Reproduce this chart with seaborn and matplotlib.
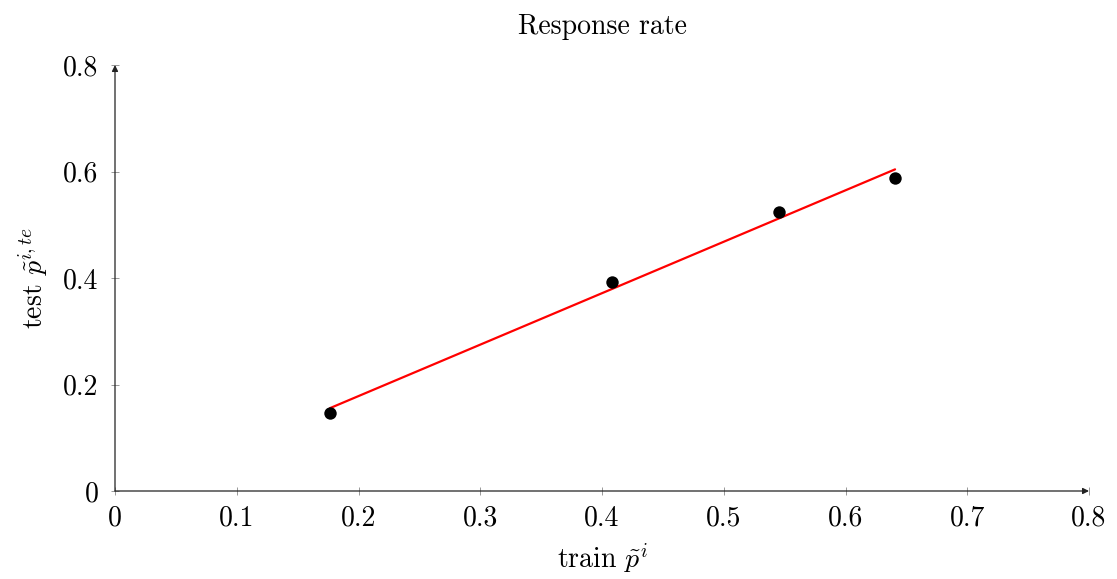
import matplotlib
matplotlib.use("Agg")
import matplotlib.pyplot as plt
import seaborn as sns
import pandas as pd

# Data
train_p = [0.1766, 0.408, 0.5454, 0.6407]
test_p = [0.1465, 0.3925, 0.524, 0.5878]
x_ticks = [0, 0.1, 0.2, 0.3, 0.4, 0.5, 0.6, 0.7, 0.8]
y_ticks = [0, 0.2, 0.4, 0.6, 0.8]
x_tick_labels = ["0", "0.1", "0.2", "0.3", "0.4", "0.5", "0.6", "0.7", "0.8"]
y_tick_labels = ["0", "0.2", "0.4", "0.6", "0.8"]

df = pd.DataFrame({"train": train_p, "test": test_p})

sns.set_style("white")
plt.rcParams["font.family"] = ["cmr10", "DejaVu Serif"]
plt.rcParams["mathtext.fontset"] = "cm"
plt.rcParams["axes.formatter.use_mathtext"] = True
plt.rcParams["text.color"] = "black"
plt.rcParams["axes.labelcolor"] = "black"
plt.rcParams["xtick.color"] = "black"
plt.rcParams["ytick.color"] = "black"

fig = plt.figure(figsize=(11.17, 5.79), dpi=100)
ax = fig.add_axes([115 / 1117, 88 / 579, (1089 - 115) / 1117, (491 - 65) / 579])

sns.regplot(data=df, x="train", y="test", ax=ax, ci=None,
            scatter_kws=dict(s=80, color="black", alpha=1, zorder=3, linewidths=0),
            line_kws=dict(color="red", lw=1.6, zorder=2))

ax.set_xlim(0, 0.8)
ax.set_ylim(0, 0.8)
ax.set_xticks(x_ticks)
ax.set_xticklabels(x_tick_labels)
ax.set_yticks(y_ticks)
ax.set_yticklabels(y_tick_labels)

for s in ax.spines.values():
    s.set_visible(False)

ax.annotate("", xy=(1.0, 0), xytext=(0, 0), xycoords="axes fraction",
            arrowprops=dict(arrowstyle="-|>", color="#222222", lw=0.9,
                            shrinkA=0, shrinkB=0, mutation_scale=9))
ax.annotate("", xy=(0, 1.0), xytext=(0, 0), xycoords="axes fraction",
            arrowprops=dict(arrowstyle="-|>", color="#222222", lw=0.9,
                            shrinkA=0, shrinkB=0, mutation_scale=9))

ax.tick_params(axis="both", direction="inout", length=6, width=0.6,
               color="#888888", labelcolor="black", labelsize=20,
               bottom=True, left=True)
ax.tick_params(axis="x", pad=7)
ax.tick_params(axis="y", pad=9)

ax.set_xlabel(r"train $\tilde{p}^i$", fontsize=20, labelpad=8)
ax.set_ylabel(r"test $\tilde{p}^{i,te}$", fontsize=20, labelpad=8)
ax.set_title("Response rate", fontsize=20, pad=22)

fig.savefig("out.png", dpi=100)
